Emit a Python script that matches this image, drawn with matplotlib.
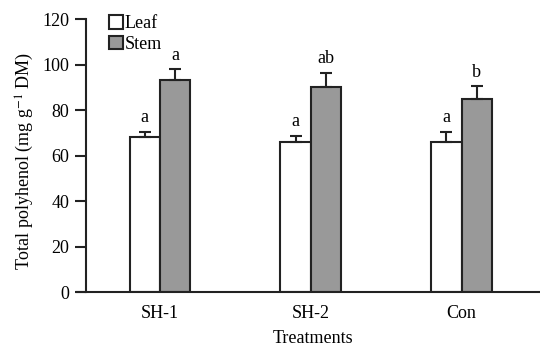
import matplotlib
matplotlib.use("Agg")
import matplotlib.pyplot as plt
import numpy as np

categories = ["SH-1", "SH-2", "Con"]
leaf = [68.0, 66.0, 65.8]
stem = [93.0, 90.1, 85.0]
leaf_err = [2.4, 2.8, 4.7]
stem_err = [5.0, 6.3, 5.5]
leaf_letters = ["a", "a", "a"]
stem_letters = ["a", "ab", "b"]

plt.rcParams['font.family'] = ['Liberation Serif', 'DejaVu Serif']
plt.rcParams['mathtext.fontset'] = 'stix'

FS = 13
fig = plt.figure(figsize=(5.4, 3.47), dpi=100)
ax = fig.add_axes([0.159, 0.1585, 0.841, 0.7865])

x = np.arange(len(categories))
w = 0.2
ekw = dict(elinewidth=1.5, capthick=1.5, ecolor='#222222')
ax.bar(x - w/2, leaf, w, color='white', edgecolor='#222222', linewidth=1.5,
       yerr=[np.zeros(3), leaf_err], capsize=4, error_kw=ekw, label='Leaf')
ax.bar(x + w/2, stem, w, color='#999999', edgecolor='#222222', linewidth=1.5,
       yerr=[np.zeros(3), stem_err], capsize=4, error_kw=ekw, label='Stem')

for xi, v, e, t in zip(x - w/2, leaf, leaf_err, leaf_letters):
    ax.annotate(t, (xi, v + e), xytext=(0, 4), textcoords='offset points',
                ha='center', va='bottom', fontsize=FS)
for xi, v, e, t in zip(x + w/2, stem, stem_err, stem_letters):
    ax.annotate(t, (xi, v + e), xytext=(0, 4), textcoords='offset points',
                ha='center', va='bottom', fontsize=FS)

ax.set_xlim(-0.49, 2.52)
ax.set_ylim(0, 120)
ax.set_yticks(range(0, 121, 20))
ax.set_xticks(x)
ax.set_xticklabels(categories)
ax.tick_params(axis='x', length=0, labelsize=FS, pad=9)
ax.tick_params(axis='y', length=8, width=1.5, labelsize=FS, pad=4, color='#222222')
for s in ['top', 'right']:
    ax.spines[s].set_visible(False)
for s in ['left', 'bottom']:
    ax.spines[s].set_linewidth(1.5)
    ax.spines[s].set_color('#222222')
ax.spines['bottom'].set_bounds(-0.49 - 9/150.5, 2.52)
ax.spines['bottom'].set_clip_on(False)

ax.set_xlabel('Treatments', fontsize=FS, labelpad=6)
ax.set_ylabel('Total polyhenol (mg g$^{-1}$ DM)', fontsize=13)
ax.yaxis.set_label_coords(-0.11, 0.48)

ax.legend(loc='upper left', bbox_to_anchor=(0.035, 1.04), frameon=False,
          fontsize=FS, handlelength=0.75, handleheight=0.75, handletextpad=0.1,
          labelspacing=0.2, borderaxespad=0)

fig.savefig('out.png', dpi=100)
